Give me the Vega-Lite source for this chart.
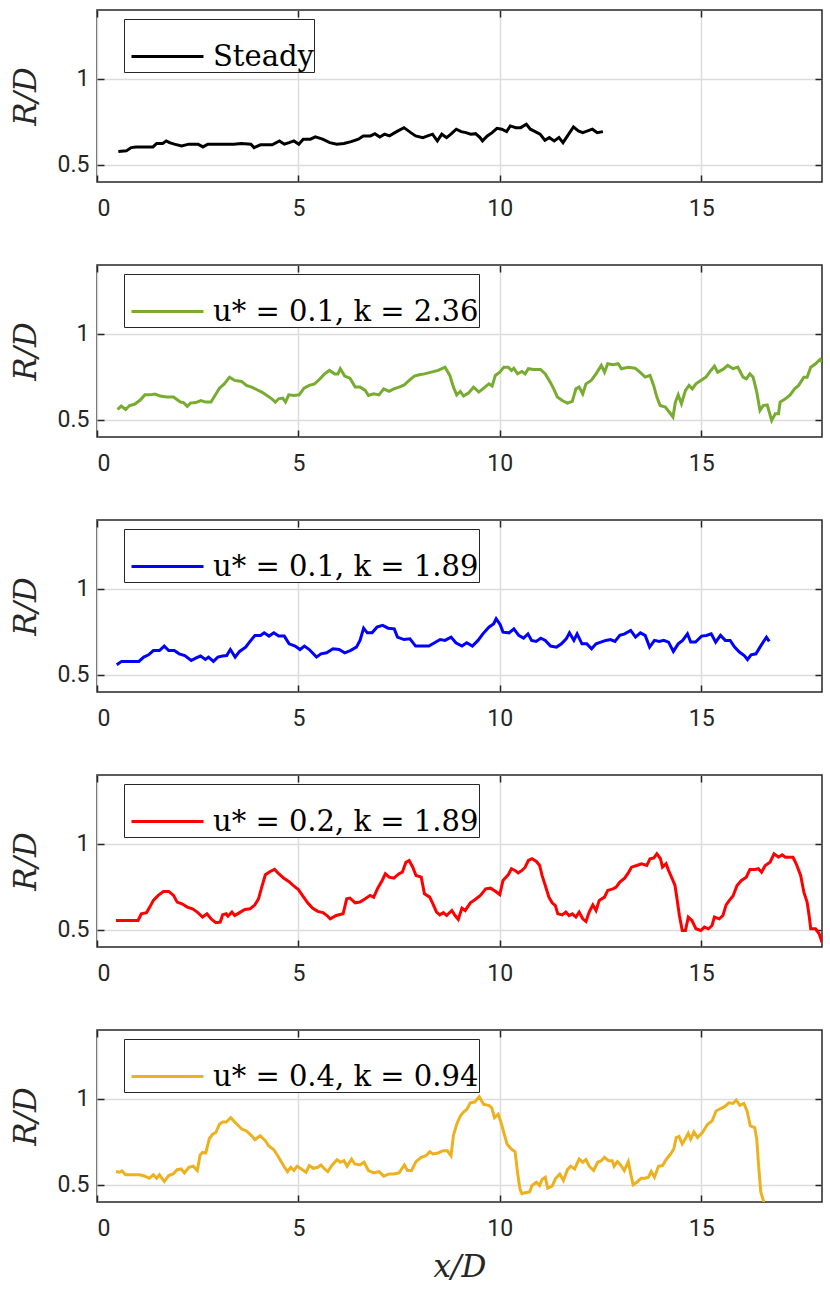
{
  "$schema": "https://vega.github.io/schema/vega-lite/v6.json",
  "padding": {"left": 9, "top": 8, "right": 6, "bottom": 6},
  "bounds": "flush",
  "spacing": 83,
  "datasets": {
    "steady": [
      {"x": 0.53, "r": 0.577}, {"x": 0.73, "r": 0.581}, {"x": 0.79, "r": 0.591}, {"x": 0.85, "r": 0.6}, {"x": 0.97, "r": 0.604},
      {"x": 1.39, "r": 0.604}, {"x": 1.48, "r": 0.624}, {"x": 1.63, "r": 0.624}, {"x": 1.72, "r": 0.639}, {"x": 1.8, "r": 0.629},
      {"x": 1.92, "r": 0.62}, {"x": 2.1, "r": 0.61}, {"x": 2.28, "r": 0.62}, {"x": 2.51, "r": 0.62}, {"x": 2.63, "r": 0.604},
      {"x": 2.75, "r": 0.62}, {"x": 3.17, "r": 0.62}, {"x": 3.4, "r": 0.62}, {"x": 3.58, "r": 0.624}, {"x": 3.82, "r": 0.62},
      {"x": 3.9, "r": 0.6}, {"x": 4.06, "r": 0.616}, {"x": 4.35, "r": 0.616}, {"x": 4.53, "r": 0.639}, {"x": 4.65, "r": 0.62},
      {"x": 4.77, "r": 0.629}, {"x": 4.89, "r": 0.639}, {"x": 5.01, "r": 0.62}, {"x": 5.12, "r": 0.649}, {"x": 5.3, "r": 0.649},
      {"x": 5.42, "r": 0.662}, {"x": 5.6, "r": 0.649}, {"x": 5.78, "r": 0.629}, {"x": 5.95, "r": 0.62}, {"x": 6.13, "r": 0.624},
      {"x": 6.31, "r": 0.635}, {"x": 6.49, "r": 0.649}, {"x": 6.61, "r": 0.668}, {"x": 6.79, "r": 0.668}, {"x": 6.9, "r": 0.681},
      {"x": 7.02, "r": 0.662}, {"x": 7.14, "r": 0.678}, {"x": 7.26, "r": 0.668}, {"x": 7.44, "r": 0.693}, {"x": 7.62, "r": 0.716},
      {"x": 7.79, "r": 0.687}, {"x": 7.91, "r": 0.668}, {"x": 8.09, "r": 0.658}, {"x": 8.21, "r": 0.668}, {"x": 8.33, "r": 0.678},
      {"x": 8.45, "r": 0.639}, {"x": 8.56, "r": 0.678}, {"x": 8.68, "r": 0.658}, {"x": 8.8, "r": 0.681}, {"x": 8.92, "r": 0.707},
      {"x": 9.04, "r": 0.693}, {"x": 9.16, "r": 0.687}, {"x": 9.28, "r": 0.678}, {"x": 9.4, "r": 0.681}, {"x": 9.51, "r": 0.658},
      {"x": 9.57, "r": 0.639}, {"x": 9.69, "r": 0.668}, {"x": 9.81, "r": 0.687}, {"x": 9.93, "r": 0.712}, {"x": 10.05, "r": 0.707},
      {"x": 10.17, "r": 0.693}, {"x": 10.26, "r": 0.726}, {"x": 10.4, "r": 0.716}, {"x": 10.52, "r": 0.716}, {"x": 10.66, "r": 0.736},
      {"x": 10.76, "r": 0.707}, {"x": 10.88, "r": 0.693}, {"x": 11.0, "r": 0.678}, {"x": 11.12, "r": 0.643}, {"x": 11.23, "r": 0.658},
      {"x": 11.35, "r": 0.639}, {"x": 11.47, "r": 0.658}, {"x": 11.57, "r": 0.629}, {"x": 11.71, "r": 0.678}, {"x": 11.83, "r": 0.72},
      {"x": 11.95, "r": 0.697}, {"x": 12.06, "r": 0.687}, {"x": 12.18, "r": 0.697}, {"x": 12.3, "r": 0.707}, {"x": 12.42, "r": 0.687},
      {"x": 12.56, "r": 0.693}
    ],
    "green": [
      {"x": 0.51, "r": 0.56}, {"x": 0.6, "r": 0.58}, {"x": 0.71, "r": 0.56}, {"x": 0.81, "r": 0.583}, {"x": 0.93, "r": 0.59},
      {"x": 1.06, "r": 0.612}, {"x": 1.19, "r": 0.645}, {"x": 1.31, "r": 0.645}, {"x": 1.44, "r": 0.65}, {"x": 1.57, "r": 0.638},
      {"x": 1.73, "r": 0.632}, {"x": 1.9, "r": 0.632}, {"x": 2.07, "r": 0.603}, {"x": 2.15, "r": 0.6}, {"x": 2.24, "r": 0.578},
      {"x": 2.32, "r": 0.597}, {"x": 2.45, "r": 0.6}, {"x": 2.58, "r": 0.612}, {"x": 2.7, "r": 0.603}, {"x": 2.83, "r": 0.603},
      {"x": 2.93, "r": 0.641}, {"x": 3.04, "r": 0.684}, {"x": 3.16, "r": 0.709}, {"x": 3.29, "r": 0.748}, {"x": 3.42, "r": 0.729},
      {"x": 3.59, "r": 0.723}, {"x": 3.71, "r": 0.7}, {"x": 3.84, "r": 0.69}, {"x": 3.96, "r": 0.676}, {"x": 4.09, "r": 0.661},
      {"x": 4.22, "r": 0.641}, {"x": 4.34, "r": 0.622}, {"x": 4.43, "r": 0.603}, {"x": 4.51, "r": 0.622}, {"x": 4.61, "r": 0.626},
      {"x": 4.68, "r": 0.603}, {"x": 4.76, "r": 0.645}, {"x": 4.89, "r": 0.641}, {"x": 5.02, "r": 0.645}, {"x": 5.14, "r": 0.684},
      {"x": 5.27, "r": 0.7}, {"x": 5.4, "r": 0.709}, {"x": 5.52, "r": 0.734}, {"x": 5.65, "r": 0.767}, {"x": 5.77, "r": 0.787},
      {"x": 5.9, "r": 0.767}, {"x": 5.98, "r": 0.767}, {"x": 6.04, "r": 0.797}, {"x": 6.15, "r": 0.754}, {"x": 6.28, "r": 0.742},
      {"x": 6.41, "r": 0.69}, {"x": 6.53, "r": 0.69}, {"x": 6.66, "r": 0.671}, {"x": 6.74, "r": 0.641}, {"x": 6.87, "r": 0.651},
      {"x": 7.0, "r": 0.645}, {"x": 7.12, "r": 0.68}, {"x": 7.25, "r": 0.665}, {"x": 7.37, "r": 0.68}, {"x": 7.5, "r": 0.69},
      {"x": 7.63, "r": 0.703}, {"x": 7.75, "r": 0.729}, {"x": 7.88, "r": 0.754}, {"x": 8.0, "r": 0.762}, {"x": 8.13, "r": 0.767},
      {"x": 8.3, "r": 0.777}, {"x": 8.47, "r": 0.787}, {"x": 8.64, "r": 0.806}, {"x": 8.76, "r": 0.758}, {"x": 8.85, "r": 0.69},
      {"x": 8.93, "r": 0.645}, {"x": 9.02, "r": 0.665}, {"x": 9.1, "r": 0.638}, {"x": 9.23, "r": 0.657}, {"x": 9.35, "r": 0.69},
      {"x": 9.48, "r": 0.661}, {"x": 9.6, "r": 0.684}, {"x": 9.73, "r": 0.709}, {"x": 9.81, "r": 0.696}, {"x": 9.89, "r": 0.758},
      {"x": 10.0, "r": 0.777}, {"x": 10.1, "r": 0.806}, {"x": 10.21, "r": 0.806}, {"x": 10.29, "r": 0.787}, {"x": 10.35, "r": 0.8},
      {"x": 10.44, "r": 0.767}, {"x": 10.55, "r": 0.781}, {"x": 10.63, "r": 0.767}, {"x": 10.71, "r": 0.797}, {"x": 10.84, "r": 0.793},
      {"x": 11.01, "r": 0.793}, {"x": 11.13, "r": 0.767}, {"x": 11.26, "r": 0.715}, {"x": 11.34, "r": 0.68}, {"x": 11.43, "r": 0.632},
      {"x": 11.55, "r": 0.612}, {"x": 11.68, "r": 0.597}, {"x": 11.8, "r": 0.607}, {"x": 11.89, "r": 0.68}, {"x": 11.97, "r": 0.69},
      {"x": 12.06, "r": 0.651}, {"x": 12.14, "r": 0.709}, {"x": 12.27, "r": 0.729}, {"x": 12.39, "r": 0.767}, {"x": 12.52, "r": 0.816},
      {"x": 12.6, "r": 0.777}, {"x": 12.68, "r": 0.826}, {"x": 12.81, "r": 0.82}, {"x": 12.94, "r": 0.826}, {"x": 13.02, "r": 0.797},
      {"x": 13.19, "r": 0.806}, {"x": 13.36, "r": 0.8}, {"x": 13.48, "r": 0.777}, {"x": 13.61, "r": 0.748}, {"x": 13.73, "r": 0.758},
      {"x": 13.82, "r": 0.7}, {"x": 13.9, "r": 0.632}, {"x": 13.98, "r": 0.583}, {"x": 14.11, "r": 0.574}, {"x": 14.24, "r": 0.535},
      {"x": 14.3, "r": 0.516}, {"x": 14.36, "r": 0.603}, {"x": 14.43, "r": 0.645}, {"x": 14.51, "r": 0.593}, {"x": 14.61, "r": 0.671},
      {"x": 14.7, "r": 0.7}, {"x": 14.78, "r": 0.68}, {"x": 14.87, "r": 0.709}, {"x": 14.99, "r": 0.729}, {"x": 15.12, "r": 0.748},
      {"x": 15.24, "r": 0.787}, {"x": 15.33, "r": 0.812}, {"x": 15.41, "r": 0.777}, {"x": 15.54, "r": 0.793}, {"x": 15.66, "r": 0.816},
      {"x": 15.79, "r": 0.797}, {"x": 15.91, "r": 0.806}, {"x": 16.04, "r": 0.748}, {"x": 16.12, "r": 0.738}, {"x": 16.21, "r": 0.767},
      {"x": 16.29, "r": 0.748}, {"x": 16.38, "r": 0.661}, {"x": 16.46, "r": 0.554}, {"x": 16.54, "r": 0.583}, {"x": 16.64, "r": 0.587},
      {"x": 16.75, "r": 0.496}, {"x": 16.84, "r": 0.535}, {"x": 16.92, "r": 0.535}, {"x": 16.96, "r": 0.603}, {"x": 17.09, "r": 0.622},
      {"x": 17.21, "r": 0.645}, {"x": 17.32, "r": 0.68}, {"x": 17.42, "r": 0.7}, {"x": 17.55, "r": 0.748}, {"x": 17.63, "r": 0.748},
      {"x": 17.72, "r": 0.806}, {"x": 17.84, "r": 0.826}, {"x": 17.95, "r": 0.851}, {"x": 18.0, "r": 0.835}
    ],
    "blue": [
      {"x": 0.49, "r": 0.558}, {"x": 0.61, "r": 0.578}, {"x": 0.81, "r": 0.578}, {"x": 1.04, "r": 0.578}, {"x": 1.16, "r": 0.603},
      {"x": 1.28, "r": 0.616}, {"x": 1.4, "r": 0.641}, {"x": 1.55, "r": 0.641}, {"x": 1.67, "r": 0.667}, {"x": 1.78, "r": 0.641},
      {"x": 1.92, "r": 0.641}, {"x": 2.04, "r": 0.622}, {"x": 2.18, "r": 0.612}, {"x": 2.34, "r": 0.583}, {"x": 2.45, "r": 0.597},
      {"x": 2.57, "r": 0.609}, {"x": 2.69, "r": 0.589}, {"x": 2.77, "r": 0.603}, {"x": 2.89, "r": 0.578}, {"x": 3.0, "r": 0.603},
      {"x": 3.12, "r": 0.609}, {"x": 3.22, "r": 0.612}, {"x": 3.31, "r": 0.647}, {"x": 3.43, "r": 0.603}, {"x": 3.54, "r": 0.636},
      {"x": 3.69, "r": 0.661}, {"x": 3.8, "r": 0.694}, {"x": 3.92, "r": 0.729}, {"x": 4.06, "r": 0.729}, {"x": 4.15, "r": 0.744},
      {"x": 4.27, "r": 0.725}, {"x": 4.39, "r": 0.744}, {"x": 4.51, "r": 0.725}, {"x": 4.65, "r": 0.725}, {"x": 4.77, "r": 0.68},
      {"x": 4.92, "r": 0.667}, {"x": 5.04, "r": 0.647}, {"x": 5.15, "r": 0.667}, {"x": 5.27, "r": 0.647}, {"x": 5.45, "r": 0.603},
      {"x": 5.56, "r": 0.622}, {"x": 5.7, "r": 0.628}, {"x": 5.86, "r": 0.651}, {"x": 6.01, "r": 0.647}, {"x": 6.15, "r": 0.628},
      {"x": 6.29, "r": 0.641}, {"x": 6.44, "r": 0.661}, {"x": 6.53, "r": 0.7}, {"x": 6.62, "r": 0.771}, {"x": 6.71, "r": 0.744},
      {"x": 6.83, "r": 0.744}, {"x": 6.95, "r": 0.777}, {"x": 7.09, "r": 0.787}, {"x": 7.23, "r": 0.771}, {"x": 7.38, "r": 0.767},
      {"x": 7.46, "r": 0.719}, {"x": 7.62, "r": 0.705}, {"x": 7.77, "r": 0.709}, {"x": 7.91, "r": 0.667}, {"x": 8.09, "r": 0.667},
      {"x": 8.24, "r": 0.667}, {"x": 8.38, "r": 0.686}, {"x": 8.52, "r": 0.705}, {"x": 8.64, "r": 0.7}, {"x": 8.79, "r": 0.719},
      {"x": 8.91, "r": 0.686}, {"x": 9.06, "r": 0.667}, {"x": 9.18, "r": 0.686}, {"x": 9.32, "r": 0.667}, {"x": 9.46, "r": 0.7},
      {"x": 9.58, "r": 0.738}, {"x": 9.73, "r": 0.777}, {"x": 9.85, "r": 0.797}, {"x": 9.91, "r": 0.826}, {"x": 10.01, "r": 0.791},
      {"x": 10.08, "r": 0.748}, {"x": 10.23, "r": 0.744}, {"x": 10.35, "r": 0.767}, {"x": 10.47, "r": 0.729}, {"x": 10.59, "r": 0.713},
      {"x": 10.7, "r": 0.738}, {"x": 10.79, "r": 0.7}, {"x": 10.9, "r": 0.694}, {"x": 11.02, "r": 0.713}, {"x": 11.13, "r": 0.7},
      {"x": 11.26, "r": 0.667}, {"x": 11.41, "r": 0.661}, {"x": 11.53, "r": 0.68}, {"x": 11.65, "r": 0.709}, {"x": 11.73, "r": 0.744},
      {"x": 11.84, "r": 0.7}, {"x": 11.92, "r": 0.738}, {"x": 12.04, "r": 0.68}, {"x": 12.16, "r": 0.68}, {"x": 12.28, "r": 0.651},
      {"x": 12.39, "r": 0.68}, {"x": 12.51, "r": 0.69}, {"x": 12.63, "r": 0.7}, {"x": 12.75, "r": 0.705}, {"x": 12.86, "r": 0.694},
      {"x": 12.98, "r": 0.729}, {"x": 13.1, "r": 0.738}, {"x": 13.25, "r": 0.758}, {"x": 13.37, "r": 0.719}, {"x": 13.49, "r": 0.744},
      {"x": 13.61, "r": 0.729}, {"x": 13.72, "r": 0.661}, {"x": 13.84, "r": 0.7}, {"x": 13.96, "r": 0.694}, {"x": 14.07, "r": 0.7},
      {"x": 14.19, "r": 0.69}, {"x": 14.31, "r": 0.636}, {"x": 14.43, "r": 0.68}, {"x": 14.54, "r": 0.7}, {"x": 14.66, "r": 0.738},
      {"x": 14.74, "r": 0.69}, {"x": 14.86, "r": 0.69}, {"x": 15.01, "r": 0.725}, {"x": 15.13, "r": 0.729}, {"x": 15.25, "r": 0.738},
      {"x": 15.36, "r": 0.69}, {"x": 15.48, "r": 0.729}, {"x": 15.6, "r": 0.7}, {"x": 15.72, "r": 0.7}, {"x": 15.83, "r": 0.661},
      {"x": 15.95, "r": 0.632}, {"x": 16.07, "r": 0.612}, {"x": 16.15, "r": 0.589}, {"x": 16.24, "r": 0.616}, {"x": 16.36, "r": 0.622},
      {"x": 16.46, "r": 0.661}, {"x": 16.54, "r": 0.69}, {"x": 16.62, "r": 0.719}, {"x": 16.69, "r": 0.694}
    ],
    "red": [
      {"x": 0.47, "r": 0.554}, {"x": 0.72, "r": 0.554}, {"x": 1.02, "r": 0.554}, {"x": 1.1, "r": 0.593}, {"x": 1.23, "r": 0.6},
      {"x": 1.31, "r": 0.632}, {"x": 1.4, "r": 0.671}, {"x": 1.52, "r": 0.7}, {"x": 1.65, "r": 0.723}, {"x": 1.78, "r": 0.723},
      {"x": 1.9, "r": 0.7}, {"x": 1.99, "r": 0.661}, {"x": 2.11, "r": 0.651}, {"x": 2.24, "r": 0.632}, {"x": 2.37, "r": 0.622},
      {"x": 2.49, "r": 0.603}, {"x": 2.62, "r": 0.574}, {"x": 2.73, "r": 0.593}, {"x": 2.83, "r": 0.564}, {"x": 2.95, "r": 0.541},
      {"x": 3.06, "r": 0.545}, {"x": 3.12, "r": 0.587}, {"x": 3.21, "r": 0.593}, {"x": 3.25, "r": 0.579}, {"x": 3.35, "r": 0.603},
      {"x": 3.42, "r": 0.583}, {"x": 3.54, "r": 0.6}, {"x": 3.67, "r": 0.618}, {"x": 3.8, "r": 0.622}, {"x": 3.92, "r": 0.645},
      {"x": 4.01, "r": 0.68}, {"x": 4.09, "r": 0.748}, {"x": 4.18, "r": 0.82}, {"x": 4.3, "r": 0.839}, {"x": 4.41, "r": 0.851},
      {"x": 4.51, "r": 0.826}, {"x": 4.64, "r": 0.8}, {"x": 4.76, "r": 0.781}, {"x": 4.87, "r": 0.758}, {"x": 5.0, "r": 0.734},
      {"x": 5.1, "r": 0.7}, {"x": 5.23, "r": 0.657}, {"x": 5.35, "r": 0.626}, {"x": 5.48, "r": 0.607}, {"x": 5.61, "r": 0.6},
      {"x": 5.71, "r": 0.583}, {"x": 5.79, "r": 0.564}, {"x": 5.94, "r": 0.583}, {"x": 6.11, "r": 0.593}, {"x": 6.2, "r": 0.68},
      {"x": 6.28, "r": 0.684}, {"x": 6.41, "r": 0.657}, {"x": 6.53, "r": 0.661}, {"x": 6.66, "r": 0.68}, {"x": 6.78, "r": 0.7},
      {"x": 6.87, "r": 0.69}, {"x": 6.97, "r": 0.742}, {"x": 7.08, "r": 0.787}, {"x": 7.16, "r": 0.826}, {"x": 7.25, "r": 0.806},
      {"x": 7.37, "r": 0.8}, {"x": 7.5, "r": 0.826}, {"x": 7.58, "r": 0.835}, {"x": 7.67, "r": 0.893}, {"x": 7.75, "r": 0.903},
      {"x": 7.84, "r": 0.864}, {"x": 7.92, "r": 0.816}, {"x": 8.05, "r": 0.806}, {"x": 8.13, "r": 0.709}, {"x": 8.26, "r": 0.69},
      {"x": 8.34, "r": 0.651}, {"x": 8.43, "r": 0.603}, {"x": 8.51, "r": 0.587}, {"x": 8.6, "r": 0.6}, {"x": 8.68, "r": 0.583},
      {"x": 8.81, "r": 0.612}, {"x": 8.89, "r": 0.583}, {"x": 8.97, "r": 0.56}, {"x": 9.06, "r": 0.626}, {"x": 9.14, "r": 0.612},
      {"x": 9.27, "r": 0.657}, {"x": 9.39, "r": 0.676}, {"x": 9.52, "r": 0.7}, {"x": 9.65, "r": 0.738}, {"x": 9.77, "r": 0.742},
      {"x": 9.9, "r": 0.723}, {"x": 10.0, "r": 0.705}, {"x": 10.08, "r": 0.787}, {"x": 10.21, "r": 0.82}, {"x": 10.29, "r": 0.855},
      {"x": 10.38, "r": 0.845}, {"x": 10.46, "r": 0.831}, {"x": 10.55, "r": 0.845}, {"x": 10.63, "r": 0.864}, {"x": 10.71, "r": 0.903},
      {"x": 10.8, "r": 0.913}, {"x": 10.91, "r": 0.897}, {"x": 10.99, "r": 0.874}, {"x": 11.05, "r": 0.816}, {"x": 11.13, "r": 0.758},
      {"x": 11.22, "r": 0.69}, {"x": 11.3, "r": 0.657}, {"x": 11.38, "r": 0.641}, {"x": 11.44, "r": 0.593}, {"x": 11.55, "r": 0.587},
      {"x": 11.64, "r": 0.603}, {"x": 11.72, "r": 0.583}, {"x": 11.8, "r": 0.593}, {"x": 11.89, "r": 0.574}, {"x": 11.97, "r": 0.603},
      {"x": 12.06, "r": 0.564}, {"x": 12.14, "r": 0.548}, {"x": 12.22, "r": 0.603}, {"x": 12.31, "r": 0.645}, {"x": 12.39, "r": 0.612},
      {"x": 12.47, "r": 0.671}, {"x": 12.6, "r": 0.69}, {"x": 12.68, "r": 0.729}, {"x": 12.81, "r": 0.738}, {"x": 12.89, "r": 0.748},
      {"x": 12.98, "r": 0.777}, {"x": 13.1, "r": 0.8}, {"x": 13.19, "r": 0.831}, {"x": 13.27, "r": 0.864}, {"x": 13.4, "r": 0.874},
      {"x": 13.52, "r": 0.884}, {"x": 13.65, "r": 0.874}, {"x": 13.73, "r": 0.913}, {"x": 13.82, "r": 0.917}, {"x": 13.9, "r": 0.942},
      {"x": 13.99, "r": 0.913}, {"x": 14.04, "r": 0.864}, {"x": 14.13, "r": 0.884}, {"x": 14.19, "r": 0.845}, {"x": 14.28, "r": 0.797},
      {"x": 14.35, "r": 0.758}, {"x": 14.4, "r": 0.68}, {"x": 14.46, "r": 0.583}, {"x": 14.53, "r": 0.496}, {"x": 14.61, "r": 0.496},
      {"x": 14.68, "r": 0.574}, {"x": 14.77, "r": 0.554}, {"x": 14.87, "r": 0.506}, {"x": 14.99, "r": 0.496}, {"x": 15.08, "r": 0.516},
      {"x": 15.18, "r": 0.506}, {"x": 15.27, "r": 0.525}, {"x": 15.33, "r": 0.574}, {"x": 15.45, "r": 0.564}, {"x": 15.54, "r": 0.583},
      {"x": 15.62, "r": 0.645}, {"x": 15.7, "r": 0.671}, {"x": 15.79, "r": 0.696}, {"x": 15.89, "r": 0.758}, {"x": 16.0, "r": 0.787},
      {"x": 16.12, "r": 0.806}, {"x": 16.21, "r": 0.851}, {"x": 16.33, "r": 0.851}, {"x": 16.42, "r": 0.855}, {"x": 16.5, "r": 0.835},
      {"x": 16.59, "r": 0.874}, {"x": 16.71, "r": 0.893}, {"x": 16.81, "r": 0.942}, {"x": 16.92, "r": 0.922}, {"x": 17.01, "r": 0.936},
      {"x": 17.09, "r": 0.922}, {"x": 17.17, "r": 0.922}, {"x": 17.28, "r": 0.922}, {"x": 17.36, "r": 0.884}, {"x": 17.47, "r": 0.816},
      {"x": 17.55, "r": 0.719}, {"x": 17.63, "r": 0.661}, {"x": 17.68, "r": 0.583}, {"x": 17.72, "r": 0.506}, {"x": 17.84, "r": 0.506},
      {"x": 17.93, "r": 0.477}, {"x": 18.0, "r": 0.428}
    ],
    "yellow": [
      {"x": 0.47, "r": 0.577}, {"x": 0.56, "r": 0.573}, {"x": 0.62, "r": 0.581}, {"x": 0.71, "r": 0.558}, {"x": 0.89, "r": 0.558},
      {"x": 1.06, "r": 0.558}, {"x": 1.19, "r": 0.55}, {"x": 1.3, "r": 0.538}, {"x": 1.4, "r": 0.558}, {"x": 1.48, "r": 0.538},
      {"x": 1.55, "r": 0.558}, {"x": 1.67, "r": 0.519}, {"x": 1.78, "r": 0.554}, {"x": 1.89, "r": 0.563}, {"x": 1.99, "r": 0.588},
      {"x": 2.09, "r": 0.592}, {"x": 2.17, "r": 0.569}, {"x": 2.28, "r": 0.602}, {"x": 2.39, "r": 0.608}, {"x": 2.49, "r": 0.583},
      {"x": 2.56, "r": 0.673}, {"x": 2.62, "r": 0.688}, {"x": 2.7, "r": 0.685}, {"x": 2.79, "r": 0.769}, {"x": 2.87, "r": 0.794},
      {"x": 2.95, "r": 0.804}, {"x": 3.04, "r": 0.852}, {"x": 3.12, "r": 0.865}, {"x": 3.21, "r": 0.865}, {"x": 3.32, "r": 0.89},
      {"x": 3.42, "r": 0.865}, {"x": 3.5, "r": 0.846}, {"x": 3.6, "r": 0.823}, {"x": 3.71, "r": 0.813}, {"x": 3.84, "r": 0.785},
      {"x": 3.92, "r": 0.762}, {"x": 4.05, "r": 0.785}, {"x": 4.18, "r": 0.756}, {"x": 4.26, "r": 0.727}, {"x": 4.39, "r": 0.704},
      {"x": 4.51, "r": 0.66}, {"x": 4.64, "r": 0.608}, {"x": 4.73, "r": 0.577}, {"x": 4.81, "r": 0.602}, {"x": 4.89, "r": 0.583},
      {"x": 4.97, "r": 0.608}, {"x": 5.1, "r": 0.588}, {"x": 5.19, "r": 0.573}, {"x": 5.27, "r": 0.612}, {"x": 5.37, "r": 0.596},
      {"x": 5.48, "r": 0.602}, {"x": 5.56, "r": 0.615}, {"x": 5.65, "r": 0.592}, {"x": 5.73, "r": 0.577}, {"x": 5.84, "r": 0.615},
      {"x": 5.96, "r": 0.646}, {"x": 6.04, "r": 0.631}, {"x": 6.13, "r": 0.64}, {"x": 6.21, "r": 0.608}, {"x": 6.32, "r": 0.65},
      {"x": 6.4, "r": 0.621}, {"x": 6.53, "r": 0.615}, {"x": 6.63, "r": 0.631}, {"x": 6.74, "r": 0.583}, {"x": 6.87, "r": 0.569},
      {"x": 7.0, "r": 0.577}, {"x": 7.12, "r": 0.55}, {"x": 7.25, "r": 0.563}, {"x": 7.37, "r": 0.563}, {"x": 7.5, "r": 0.569},
      {"x": 7.63, "r": 0.615}, {"x": 7.71, "r": 0.583}, {"x": 7.81, "r": 0.583}, {"x": 7.92, "r": 0.635}, {"x": 8.05, "r": 0.66},
      {"x": 8.17, "r": 0.669}, {"x": 8.26, "r": 0.692}, {"x": 8.34, "r": 0.679}, {"x": 8.47, "r": 0.685}, {"x": 8.59, "r": 0.698},
      {"x": 8.7, "r": 0.698}, {"x": 8.79, "r": 0.669}, {"x": 8.85, "r": 0.788}, {"x": 8.93, "r": 0.852}, {"x": 9.02, "r": 0.9},
      {"x": 9.1, "r": 0.923}, {"x": 9.18, "r": 0.938}, {"x": 9.27, "r": 0.977}, {"x": 9.38, "r": 0.981}, {"x": 9.49, "r": 1.012},
      {"x": 9.6, "r": 0.967}, {"x": 9.73, "r": 0.962}, {"x": 9.8, "r": 0.948}, {"x": 9.87, "r": 0.89}, {"x": 9.96, "r": 0.91},
      {"x": 10.02, "r": 0.871}, {"x": 10.1, "r": 0.804}, {"x": 10.18, "r": 0.737}, {"x": 10.27, "r": 0.712}, {"x": 10.38, "r": 0.692},
      {"x": 10.44, "r": 0.573}, {"x": 10.5, "r": 0.477}, {"x": 10.55, "r": 0.448}, {"x": 10.63, "r": 0.454}, {"x": 10.74, "r": 0.458},
      {"x": 10.8, "r": 0.496}, {"x": 10.91, "r": 0.515}, {"x": 10.99, "r": 0.496}, {"x": 11.05, "r": 0.531}, {"x": 11.13, "r": 0.544},
      {"x": 11.19, "r": 0.481}, {"x": 11.3, "r": 0.492}, {"x": 11.38, "r": 0.535}, {"x": 11.49, "r": 0.563}, {"x": 11.58, "r": 0.525},
      {"x": 11.68, "r": 0.588}, {"x": 11.76, "r": 0.608}, {"x": 11.86, "r": 0.592}, {"x": 11.97, "r": 0.65}, {"x": 12.06, "r": 0.631},
      {"x": 12.14, "r": 0.646}, {"x": 12.22, "r": 0.608}, {"x": 12.33, "r": 0.583}, {"x": 12.43, "r": 0.631}, {"x": 12.52, "r": 0.64},
      {"x": 12.6, "r": 0.66}, {"x": 12.7, "r": 0.64}, {"x": 12.79, "r": 0.64}, {"x": 12.84, "r": 0.608}, {"x": 12.92, "r": 0.635},
      {"x": 13.0, "r": 0.615}, {"x": 13.09, "r": 0.583}, {"x": 13.19, "r": 0.635}, {"x": 13.26, "r": 0.554}, {"x": 13.31, "r": 0.5},
      {"x": 13.4, "r": 0.515}, {"x": 13.51, "r": 0.538}, {"x": 13.61, "r": 0.538}, {"x": 13.69, "r": 0.544}, {"x": 13.76, "r": 0.577},
      {"x": 13.84, "r": 0.544}, {"x": 13.94, "r": 0.608}, {"x": 14.04, "r": 0.612}, {"x": 14.13, "r": 0.646}, {"x": 14.24, "r": 0.679},
      {"x": 14.32, "r": 0.708}, {"x": 14.38, "r": 0.775}, {"x": 14.45, "r": 0.781}, {"x": 14.53, "r": 0.737}, {"x": 14.61, "r": 0.769},
      {"x": 14.68, "r": 0.8}, {"x": 14.74, "r": 0.765}, {"x": 14.82, "r": 0.808}, {"x": 14.91, "r": 0.775}, {"x": 15.03, "r": 0.804},
      {"x": 15.16, "r": 0.852}, {"x": 15.27, "r": 0.871}, {"x": 15.37, "r": 0.929}, {"x": 15.47, "r": 0.942}, {"x": 15.58, "r": 0.954},
      {"x": 15.69, "r": 0.977}, {"x": 15.79, "r": 0.973}, {"x": 15.87, "r": 0.992}, {"x": 15.96, "r": 0.962}, {"x": 16.06, "r": 0.973},
      {"x": 16.14, "r": 0.929}, {"x": 16.22, "r": 0.842}, {"x": 16.33, "r": 0.833}, {"x": 16.38, "r": 0.765}, {"x": 16.42, "r": 0.631},
      {"x": 16.48, "r": 0.458}, {"x": 16.53, "r": 0.419}, {"x": 16.56, "r": 0.4}
    ]
  },
  "vconcat": [
    {
      "width": 725, "height": 172,
      "data": {"name": "steady"},
      "layer": [
        {
          "mark": {"type": "line", "clip": true, "strokeWidth": 3},
          "encoding": {
            "x": {"field": "x", "type": "quantitative", "scale": {"domain": [0, 18], "nice": false, "zero": false}, "axis": {"values": [0, 5, 10, 15], "title": null}},
            "y": {"field": "r", "type": "quantitative", "scale": {"domain": [0.4, 1.4], "nice": false, "zero": false}, "axis": {"values": [0.5, 1], "format": "~g", "title": "R/D"}},
            "color": {"datum": "Steady\u00a0", "type": "nominal", "scale": {"domain": ["Steady\u00a0"], "range": ["#000000"]}, "legend": {"orient": "none", "legendX": 27, "legendY": 9}}
          }
        },
        {
          "mark": {"type": "line", "opacity": 0},
          "encoding": {
            "x": {"field": "x", "type": "quantitative", "axis": {"orient": "top", "values": [0, 5, 10, 15], "labels": false, "grid": false, "title": null}},
            "y": {"field": "r", "type": "quantitative", "axis": {"orient": "right", "values": [0.5, 1], "labels": false, "grid": false, "title": null}}
          }
        }
      ],
      "resolve": {"axis": {"x": "independent", "y": "independent"}}
    },
    {
      "width": 725, "height": 172,
      "data": {"name": "green"},
      "layer": [
        {
          "mark": {"type": "line", "clip": true, "strokeWidth": 3},
          "encoding": {
            "x": {"field": "x", "type": "quantitative", "scale": {"domain": [0, 18], "nice": false, "zero": false}, "axis": {"values": [0, 5, 10, 15], "title": null}},
            "y": {"field": "r", "type": "quantitative", "scale": {"domain": [0.4, 1.4], "nice": false, "zero": false}, "axis": {"values": [0.5, 1], "format": "~g", "title": "R/D"}},
            "color": {"datum": "u* = 0.1, k = 2.36\u00a0", "type": "nominal", "scale": {"domain": ["u* = 0.1, k = 2.36\u00a0"], "range": ["#77AC30"]}, "legend": {"orient": "none", "legendX": 27, "legendY": 9}}
          }
        },
        {
          "mark": {"type": "line", "opacity": 0},
          "encoding": {
            "x": {"field": "x", "type": "quantitative", "axis": {"orient": "top", "values": [0, 5, 10, 15], "labels": false, "grid": false, "title": null}},
            "y": {"field": "r", "type": "quantitative", "axis": {"orient": "right", "values": [0.5, 1], "labels": false, "grid": false, "title": null}}
          }
        }
      ],
      "resolve": {"axis": {"x": "independent", "y": "independent"}}
    },
    {
      "width": 725, "height": 172,
      "data": {"name": "blue"},
      "layer": [
        {
          "mark": {"type": "line", "clip": true, "strokeWidth": 3},
          "encoding": {
            "x": {"field": "x", "type": "quantitative", "scale": {"domain": [0, 18], "nice": false, "zero": false}, "axis": {"values": [0, 5, 10, 15], "title": null}},
            "y": {"field": "r", "type": "quantitative", "scale": {"domain": [0.4, 1.4], "nice": false, "zero": false}, "axis": {"values": [0.5, 1], "format": "~g", "title": "R/D"}},
            "color": {"datum": "u* = 0.1, k = 1.89\u00a0", "type": "nominal", "scale": {"domain": ["u* = 0.1, k = 1.89\u00a0"], "range": ["#0000FF"]}, "legend": {"orient": "none", "legendX": 27, "legendY": 9}}
          }
        },
        {
          "mark": {"type": "line", "opacity": 0},
          "encoding": {
            "x": {"field": "x", "type": "quantitative", "axis": {"orient": "top", "values": [0, 5, 10, 15], "labels": false, "grid": false, "title": null}},
            "y": {"field": "r", "type": "quantitative", "axis": {"orient": "right", "values": [0.5, 1], "labels": false, "grid": false, "title": null}}
          }
        }
      ],
      "resolve": {"axis": {"x": "independent", "y": "independent"}}
    },
    {
      "width": 725, "height": 172,
      "data": {"name": "red"},
      "layer": [
        {
          "mark": {"type": "line", "clip": true, "strokeWidth": 3},
          "encoding": {
            "x": {"field": "x", "type": "quantitative", "scale": {"domain": [0, 18], "nice": false, "zero": false}, "axis": {"values": [0, 5, 10, 15], "title": null}},
            "y": {"field": "r", "type": "quantitative", "scale": {"domain": [0.4, 1.4], "nice": false, "zero": false}, "axis": {"values": [0.5, 1], "format": "~g", "title": "R/D"}},
            "color": {"datum": "u* = 0.2, k = 1.89\u00a0", "type": "nominal", "scale": {"domain": ["u* = 0.2, k = 1.89\u00a0"], "range": ["#FF0000"]}, "legend": {"orient": "none", "legendX": 27, "legendY": 9}}
          }
        },
        {
          "mark": {"type": "line", "opacity": 0},
          "encoding": {
            "x": {"field": "x", "type": "quantitative", "axis": {"orient": "top", "values": [0, 5, 10, 15], "labels": false, "grid": false, "title": null}},
            "y": {"field": "r", "type": "quantitative", "axis": {"orient": "right", "values": [0.5, 1], "labels": false, "grid": false, "title": null}}
          }
        }
      ],
      "resolve": {"axis": {"x": "independent", "y": "independent"}}
    },
    {
      "width": 725, "height": 172,
      "data": {"name": "yellow"},
      "layer": [
        {
          "mark": {"type": "line", "clip": true, "strokeWidth": 3},
          "encoding": {
            "x": {"field": "x", "type": "quantitative", "scale": {"domain": [0, 18], "nice": false, "zero": false}, "axis": {"values": [0, 5, 10, 15], "title": "x/D"}},
            "y": {"field": "r", "type": "quantitative", "scale": {"domain": [0.4, 1.4], "nice": false, "zero": false}, "axis": {"values": [0.5, 1], "format": "~g", "title": "R/D"}},
            "color": {"datum": "u* = 0.4, k = 0.94\u00a0", "type": "nominal", "scale": {"domain": ["u* = 0.4, k = 0.94\u00a0"], "range": ["#EDB120"]}, "legend": {"orient": "none", "legendX": 27, "legendY": 9}}
          }
        },
        {
          "mark": {"type": "line", "opacity": 0},
          "encoding": {
            "x": {"field": "x", "type": "quantitative", "axis": {"orient": "top", "values": [0, 5, 10, 15], "labels": false, "grid": false, "title": null}},
            "y": {"field": "r", "type": "quantitative", "axis": {"orient": "right", "values": [0.5, 1], "labels": false, "grid": false, "title": null}}
          }
        }
      ],
      "resolve": {"axis": {"x": "independent", "y": "independent"}}
    }
  ],
  "resolve": {"scale": {"color": "independent"}, "legend": {"color": "independent"}},
  "config": {
    "view": {"stroke": "#262626", "strokeWidth": 1.5},
    "axis": {
      "domain": false,
      "grid": true,
      "gridColor": "#dcdcdc",
      "gridWidth": 1.5,
      "ticks": true,
      "tickColor": "#262626",
      "tickWidth": 1.5,
      "tickSize": -7,
      "labelFont": "Roboto",
      "labelFontSize": 23,
      "labelColor": "#262626",
      "titleFont": "DejaVu Serif",
      "titleFontStyle": "italic",
      "titleFontWeight": "normal",
      "titleFontSize": 31,
      "titleColor": "#262626"
    },
    "axisX": {"labelPadding": 22, "titlePadding": 12},
    "axisY": {"labelPadding": 15, "titlePadding": 15},
    "legend": {
      "title": null,
      "symbolType": "stroke",
      "symbolSize": 5184,
      "symbolStrokeWidth": 3,
      "symbolOffset": 6,
      "labelFont": "DejaVu Serif",
      "labelFontSize": 29,
      "labelColor": "#000000",
      "labelLimit": 500,
      "labelOffset": 8,
      "strokeColor": "#262626",
      "fillColor": "#ffffff",
      "padding": 0
    }
  }
}
